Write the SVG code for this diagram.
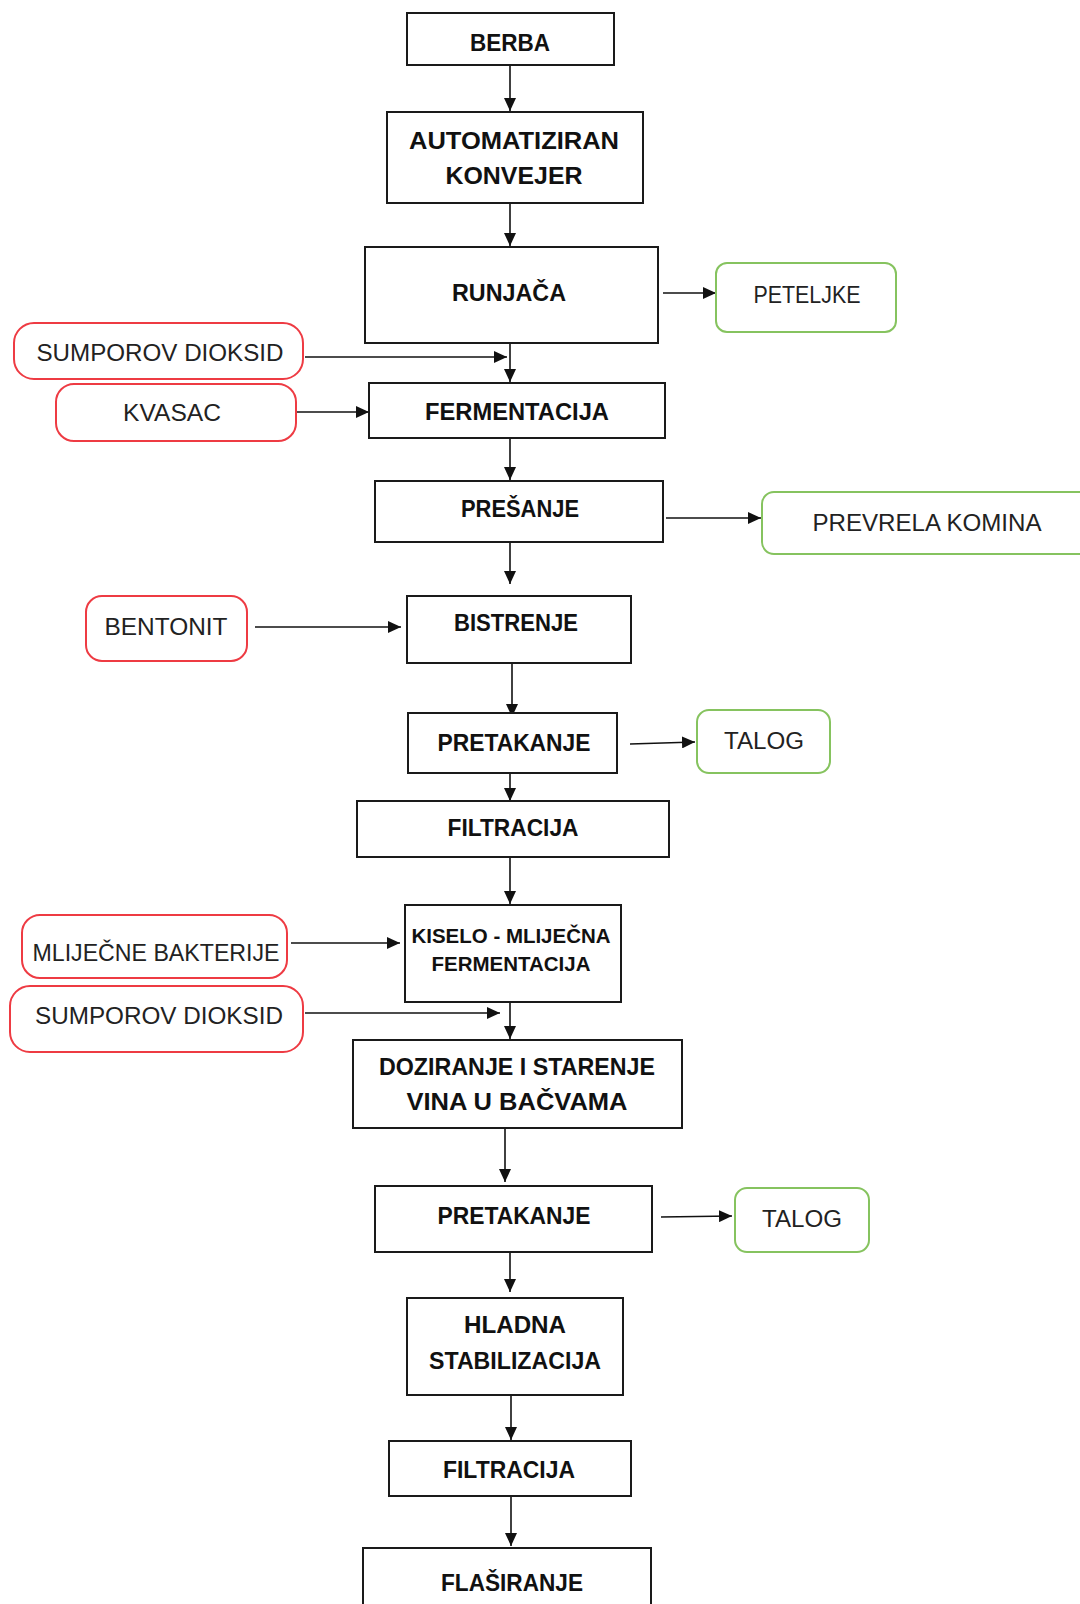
<svg xmlns="http://www.w3.org/2000/svg" width="1080" height="1604" viewBox="0 0 1080 1604">
<style>
.box{fill:#fff;stroke:#1a1a1a;stroke-width:2}
.red{fill:#fff;stroke:#ee3b43;stroke-width:2}
.green{fill:#fff;stroke:#86c35f;stroke-width:2}
.b{font-family:"Liberation Sans",Arial,sans-serif;font-weight:bold;font-size:23px;fill:#111;text-anchor:middle}
.s{font-family:"Liberation Sans",Arial,sans-serif;font-weight:bold;font-size:20px;fill:#111;text-anchor:middle}
.r{font-family:"Liberation Sans",Arial,sans-serif;font-size:23px;fill:#222;text-anchor:middle}
.c{fill:none;stroke:#111;stroke-width:1.6}
</style>
<defs>
<marker id="ah" markerUnits="userSpaceOnUse" markerWidth="14" markerHeight="12" refX="13" refY="6" orient="auto">
<path d="M0,0 L13,6 L0,12 z" fill="#111"/>
</marker>
</defs>
<rect width="1080" height="1604" fill="#fff"/>
<g id="connectors">
<line class="c" x1="510" y1="65" x2="510" y2="111" marker-end="url(#ah)"/>
<line class="c" x1="510" y1="203" x2="510" y2="246" marker-end="url(#ah)"/>
<line class="c" x1="663" y1="293" x2="716" y2="293" marker-end="url(#ah)"/>
<line class="c" x1="510" y1="340" x2="510" y2="382" marker-end="url(#ah)"/>
<line class="c" x1="305" y1="357" x2="507" y2="357" marker-end="url(#ah)"/>
<line class="c" x1="296" y1="412" x2="369" y2="412" marker-end="url(#ah)"/>
<line class="c" x1="510" y1="438" x2="510" y2="480" marker-end="url(#ah)"/>
<line class="c" x1="666" y1="518" x2="761" y2="518" marker-end="url(#ah)"/>
<line class="c" x1="510" y1="529" x2="510" y2="584" marker-end="url(#ah)"/>
<line class="c" x1="255" y1="627" x2="401" y2="627" marker-end="url(#ah)"/>
<line class="c" x1="512" y1="663" x2="512" y2="717" marker-end="url(#ah)"/>
<line class="c" x1="630" y1="744" x2="695" y2="742" marker-end="url(#ah)"/>
<line class="c" x1="510" y1="760" x2="510" y2="801" marker-end="url(#ah)"/>
<line class="c" x1="510" y1="848" x2="510" y2="904" marker-end="url(#ah)"/>
<line class="c" x1="291" y1="943" x2="400" y2="943" marker-end="url(#ah)"/>
<line class="c" x1="305" y1="1013" x2="500" y2="1013" marker-end="url(#ah)"/>
<line class="c" x1="510" y1="1002" x2="510" y2="1039" marker-end="url(#ah)"/>
<line class="c" x1="505" y1="1128" x2="505" y2="1182" marker-end="url(#ah)"/>
<line class="c" x1="661" y1="1217" x2="732" y2="1216" marker-end="url(#ah)"/>
<line class="c" x1="510" y1="1243" x2="510" y2="1292" marker-end="url(#ah)"/>
<line class="c" x1="511" y1="1396" x2="511" y2="1440" marker-end="url(#ah)"/>
<line class="c" x1="511" y1="1493" x2="511" y2="1546" marker-end="url(#ah)"/>
</g>
<g id="berba"><rect class="box" x="407" y="13" width="207" height="52"/><text class="b" x="510" y="51" textLength="80" lengthAdjust="spacingAndGlyphs">BERBA</text></g>
<g id="konvejer"><rect class="box" x="387" y="112" width="256" height="91"/><text class="b" x="514" y="149" textLength="210" lengthAdjust="spacingAndGlyphs">AUTOMATIZIRAN</text><text class="b" x="514" y="184" textLength="137" lengthAdjust="spacingAndGlyphs">KONVEJER</text></g>
<g id="runjaca"><rect class="box" x="365" y="247" width="293" height="96"/><text class="b" x="509" y="301" textLength="114" lengthAdjust="spacingAndGlyphs">RUNJAČA</text></g>
<g id="peteljke"><rect class="green" x="716" y="263" width="180" height="69" rx="11"/><text class="r" x="807" y="303" textLength="107" lengthAdjust="spacingAndGlyphs">PETELJKE</text></g>
<g id="sumporov1"><rect class="red" x="14" y="323" width="289" height="56" rx="20"/><text class="r" x="160" y="361" textLength="247" lengthAdjust="spacingAndGlyphs">SUMPOROV DIOKSID</text></g>
<g id="fermentacija"><rect class="box" x="369" y="383" width="296" height="55"/><text class="b" x="517" y="420" textLength="184" lengthAdjust="spacingAndGlyphs">FERMENTACIJA</text></g>
<g id="kvasac"><rect class="red" x="56" y="384" width="240" height="57" rx="18"/><text class="r" x="172" y="421" textLength="98" lengthAdjust="spacingAndGlyphs">KVASAC</text></g>
<g id="presanje"><rect class="box" x="375" y="481" width="288" height="61"/><text class="b" x="520" y="517" textLength="118" lengthAdjust="spacingAndGlyphs">PREŠANJE</text></g>
<g id="prevrela"><rect class="green" x="762" y="492" width="330" height="62" rx="12"/><text class="r" x="927" y="531" textLength="229" lengthAdjust="spacingAndGlyphs">PREVRELA KOMINA</text></g>
<g id="bistrenje"><rect class="box" x="407" y="596" width="224" height="67"/><text class="b" x="516" y="631" textLength="124" lengthAdjust="spacingAndGlyphs">BISTRENJE</text></g>
<g id="bentonit"><rect class="red" x="86" y="596" width="161" height="65" rx="16"/><text class="r" x="166" y="635" textLength="123" lengthAdjust="spacingAndGlyphs">BENTONIT</text></g>
<g id="pretakanje1"><rect class="box" x="408" y="713" width="209" height="60"/><text class="b" x="514" y="751" textLength="153" lengthAdjust="spacingAndGlyphs">PRETAKANJE</text></g>
<g id="talog1"><rect class="green" x="697" y="710" width="133" height="63" rx="12"/><text class="r" x="764" y="749" textLength="80" lengthAdjust="spacingAndGlyphs">TALOG</text></g>
<g id="filtracija1"><rect class="box" x="357" y="801" width="312" height="56"/><text class="b" x="513" y="836" textLength="131" lengthAdjust="spacingAndGlyphs">FILTRACIJA</text></g>
<g id="kiselo"><rect class="box" x="405" y="905" width="216" height="97"/><text class="s" x="511" y="943" textLength="199" lengthAdjust="spacingAndGlyphs">KISELO - MLIJEČNA</text><text class="s" x="511" y="971" textLength="159" lengthAdjust="spacingAndGlyphs">FERMENTACIJA</text></g>
<g id="mlijecne"><rect class="red" x="22" y="915" width="265" height="63" rx="18"/><text class="r" x="156" y="961" textLength="247" lengthAdjust="spacingAndGlyphs">MLIJEČNE BAKTERIJE</text></g>
<g id="sumporov2"><rect class="red" x="10" y="986" width="293" height="66" rx="20"/><text class="r" x="159" y="1024" textLength="248" lengthAdjust="spacingAndGlyphs">SUMPOROV DIOKSID</text></g>
<g id="doziranje"><rect class="box" x="353" y="1040" width="329" height="88"/><text class="b" x="517" y="1075" textLength="276" lengthAdjust="spacingAndGlyphs">DOZIRANJE I STARENJE</text><text class="b" x="517" y="1110" textLength="221" lengthAdjust="spacingAndGlyphs">VINA U BAČVAMA</text></g>
<g id="pretakanje2"><rect class="box" x="375" y="1186" width="277" height="66"/><text class="b" x="514" y="1224" textLength="153" lengthAdjust="spacingAndGlyphs">PRETAKANJE</text></g>
<g id="talog2"><rect class="green" x="735" y="1188" width="134" height="64" rx="12"/><text class="r" x="802" y="1227" textLength="80" lengthAdjust="spacingAndGlyphs">TALOG</text></g>
<g id="hladna"><rect class="box" x="407" y="1298" width="216" height="97"/><text class="b" x="515" y="1333" textLength="102" lengthAdjust="spacingAndGlyphs">HLADNA</text><text class="b" x="515" y="1369" textLength="172" lengthAdjust="spacingAndGlyphs">STABILIZACIJA</text></g>
<g id="filtracija2"><rect class="box" x="389" y="1441" width="242" height="55"/><text class="b" x="509" y="1478" textLength="132" lengthAdjust="spacingAndGlyphs">FILTRACIJA</text></g>
<g id="flasiranje"><rect class="box" x="363" y="1548" width="288" height="70"/><text class="b" x="512" y="1591" textLength="142" lengthAdjust="spacingAndGlyphs">FLAŠIRANJE</text></g>
</svg>
